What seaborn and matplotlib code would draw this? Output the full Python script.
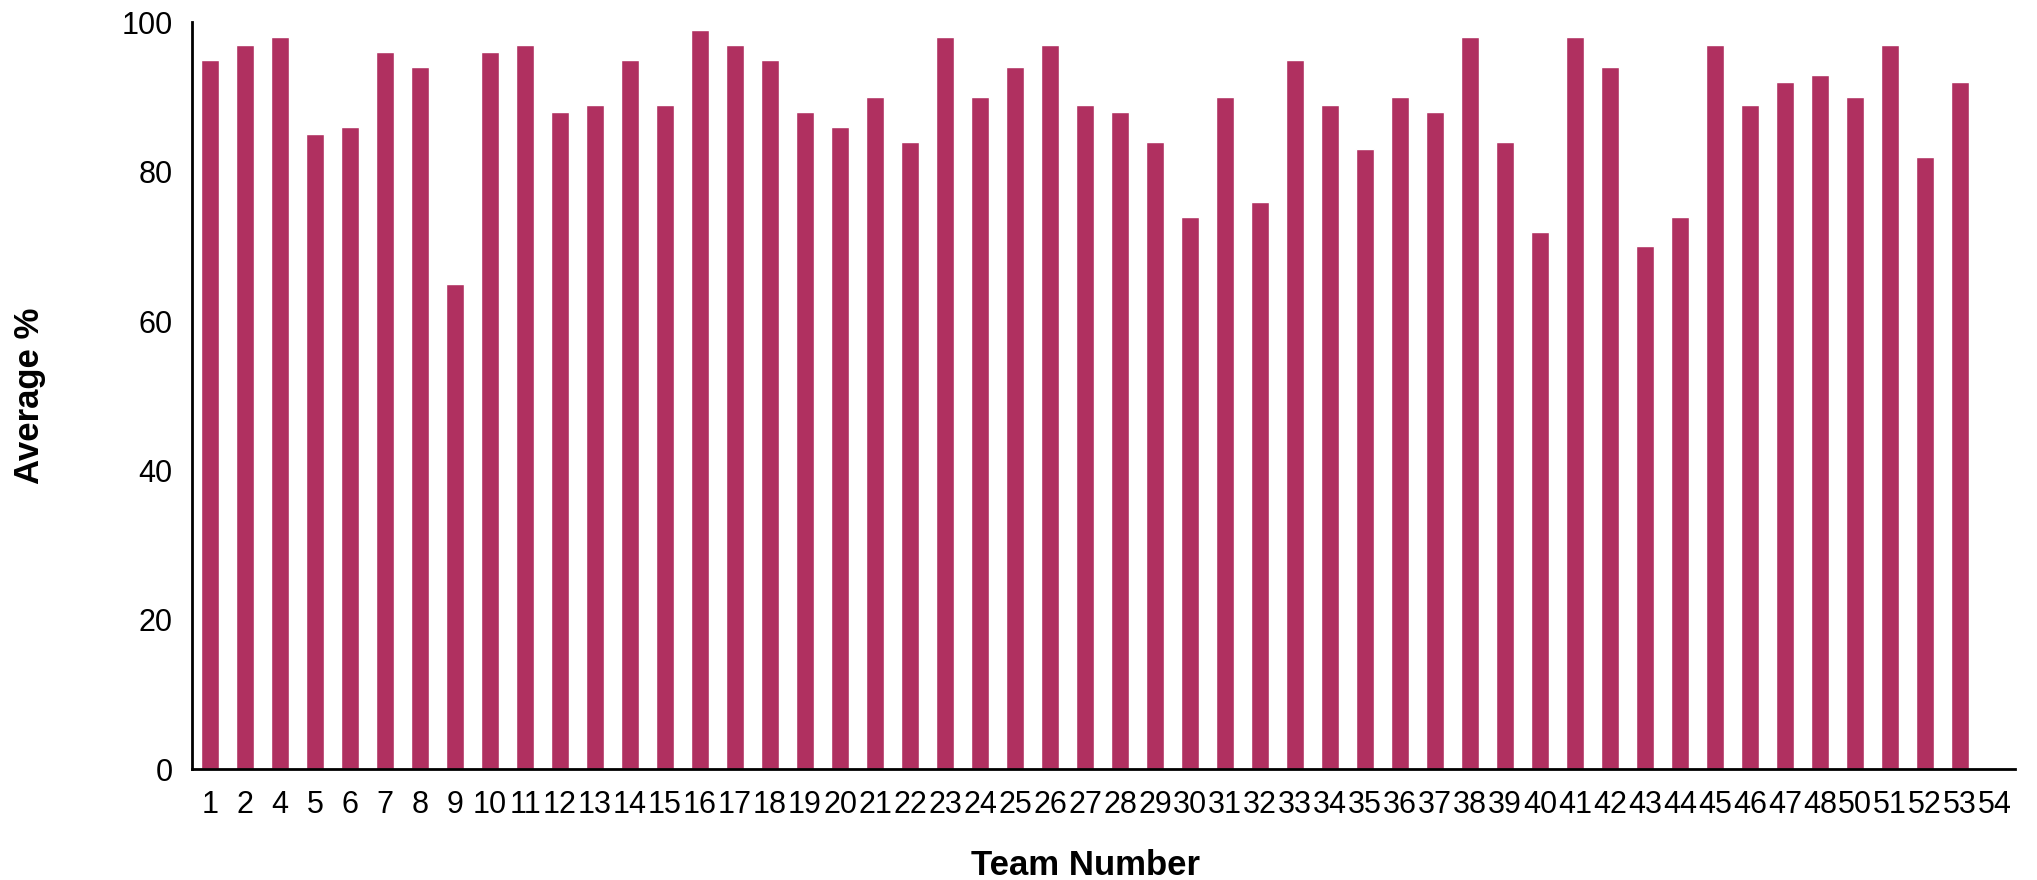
import numpy as np
import pandas as pd
import matplotlib
matplotlib.use("Agg")
import matplotlib.pyplot as plt
import seaborn as sns

# Team numbers as shown on the axis (3 and 49 not present, 54 has no score)
teams = ["1", "2", "4", "5", "6", "7", "8", "9", "10", "11", "12", "13", "14",
         "15", "16", "17", "18", "19", "20", "21", "22", "23", "24", "25", "26",
         "27", "28", "29", "30", "31", "32", "33", "34", "35", "36", "37", "38",
         "39", "40", "41", "42", "43", "44", "45", "46", "47", "48", "50", "51",
         "52", "53", "54"]
averages = [95, 97, 98, 85, 86, 96, 94, 65, 96, 97, 88, 89, 95,
            89, 99, 97, 95, 88, 86, 90, 84, 98, 90, 94, 97,
            89, 88, 84, 74, 90, 76, 95, 89, 83, 90, 88, 98,
            84, 72, 98, 94, 70, 74, 97, 89, 92, 93, 90, 97,
            82, 92, np.nan]

bar_color = "#B03060"

sns.set_style("white")
plt.rcParams['font.family'] = ['Liberation Sans', 'DejaVu Sans']
plt.rcParams['text.color'] = 'black'
plt.rcParams['xtick.color'] = 'black'
plt.rcParams['ytick.color'] = 'black'
plt.rcParams['axes.labelcolor'] = 'black'

df = pd.DataFrame({"team": teams, "avg": averages})

fig = plt.figure(figsize=(20.37, 8.8), dpi=100)
ax = fig.add_axes([192 / 2037, 1 - 769 / 880, (2015 - 192) / 2037, (769 - 22.5) / 880])

sns.barplot(data=df, x="team", y="avg", order=teams, color=bar_color,
            saturation=1, width=0.51, errorbar=None, ax=ax)

ax.set_ylim(0, 100)
ax.set_xlim(-0.514, 51.57)
ax.set_yticks([0, 20, 40, 60, 80, 100])

for side in ["top", "right"]:
    ax.spines[side].set_visible(False)
for side in ["left", "bottom"]:
    ax.spines[side].set_color("black")
    ax.spines[side].set_linewidth(2)

ax.tick_params(axis="x", length=0, pad=15, labelsize=22, colors="black")
ax.tick_params(axis="y", length=0, pad=14, labelsize=22, colors="black")

ax.set_xlabel("Team Number", fontsize=25, fontweight="bold", va="baseline", color="black")
ax.xaxis.set_label_coords(0.490, -0.142)
ax.set_ylabel("Average %", fontsize=25, fontweight="bold", va="center", color="black")
ax.yaxis.set_label_coords(-0.0889, 0.5)

fig.savefig("out.png", dpi=100)
